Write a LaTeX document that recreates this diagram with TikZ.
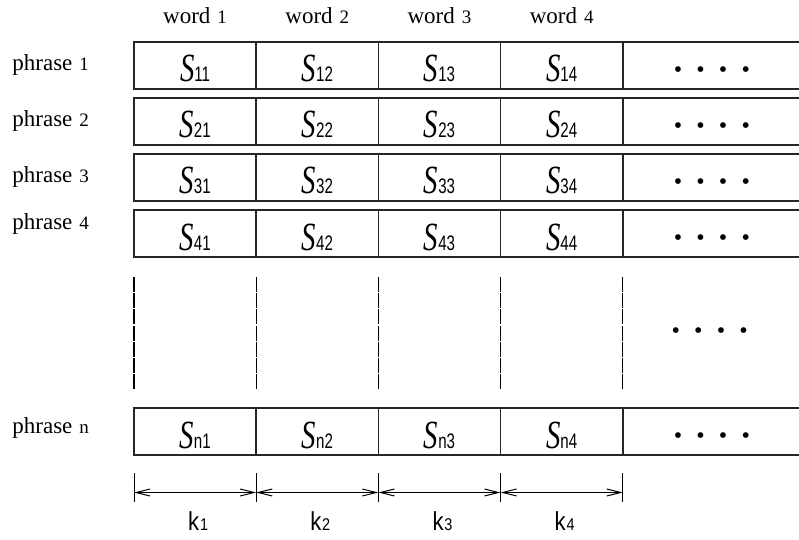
\documentclass[tikz,border=0pt]{standalone}
\usepackage{fontspec}
\setmainfont{Liberation Serif}
\setsansfont{Liberation Sans}
\usepackage{graphicx}
\usetikzlibrary{arrows.meta,positioning}

% cell entry S_ij and width label k_j, both narrowed
\newcommand{\sval}[1]{\scalebox{0.72}[1]{\fontsize{20pt}{20pt}\selectfont\textit{S}\fontsize{10.5pt}{11pt}\selectfont\sffamily#1}}
\newcommand{\kval}[1]{\scalebox{0.85}[1]{\sffamily\fontsize{13pt}{14pt}\selectfont k\hspace{0.5pt}\fontsize{8.5pt}{9pt}\selectfont#1}}
\newcommand{\idx}[1]{\hspace{3.5pt}{\fontsize{9.5pt}{10pt}\selectfont#1}}
\newcommand{\rowdots}{\textbullet\hspace{7.1pt}\textbullet\hspace{7.1pt}\textbullet\hspace{7.1pt}\textbullet}

\begin{document}
\begin{tikzpicture}[x=0.5pt, y=-0.5pt,
    cell/.style={draw=black!85, line width=0.8pt, minimum width=61.1pt, minimum height=23.5pt, inner sep=0pt, outer sep=0pt, text height=16.5pt, text depth=0pt},
    wide/.style={cell, minimum width=89.1pt, text height=12.5pt, font=\fontsize{12pt}{14pt}\selectfont},
    lbl/.style={font=\fontsize{11.5pt}{13pt}\selectfont, inner sep=0pt},
    gapline/.style={line width=0.6pt, dash pattern=on 7.5pt off 0.6pt},
    tickline/.style={line width=0.5pt},
    dimarrow/.style={{Straight Barb[length=7pt,width=3.5pt]}-{Straight Barb[length=7pt,width=3.5pt]}, line width=0.5pt}
  ]
    \useasboundingbox (0,0) rectangle (799,540);

    % column heads
    \foreach \c in {1,...,4}
      \node[lbl, anchor=base] (w\c) at ({134+122.2*(\c-0.5)}, 24) {word\idx{\c}};

    % rows: name / centre / label baseline
    \foreach \r/\yc/\yb in {1/65.5/71, 2/121.5/127, 3/177.5/183, 4/233.5/229, n/431.5/433} {
      \node[lbl, anchor=base west] (p\r) at (12, \yb) {phrase\idx{\r}};
      \foreach \c in {1,...,4}
        \node[cell] (r\r c\c) at ({134+122.2*(\c-0.5)}, \yc) {\sval{\r\c}};
      \node[wide] (r\r c5) at (711.9, \yc) {\rowdots};
    }

    % omitted rows
    \foreach \c in {0,...,4} {
      \coordinate (ga\c) at ({134+122.2*\c}, 277);
      \coordinate (gb\c) at ({134+122.2*\c}, 389);
      \draw[gapline] (ga\c) -- (gb\c);
    }
    \node[font=\fontsize{12pt}{14pt}\selectfont, inner sep=0pt, anchor=base] (gdots) at (709.7, 338) {\rowdots};

    % column widths
    \foreach \c in {0,...,4} {
      \coordinate (ta\c) at ({134+122.2*\c}, 473);
      \coordinate (tb\c) at ({134+122.2*\c}, 502);
      \coordinate (m\c) at ({134+122.2*\c}, 492.5);
      \draw[tickline] (ta\c) -- (tb\c);
    }
    \foreach \c [count=\n from 1] in {0,...,3} {
      \draw[dimarrow] (m\c) -- (m\n);
      \node[inner sep=0pt, anchor=base] (k\n) at ({137+122.2*\c+61.1}, 530) {\kval{\n}};
    }
  \end{tikzpicture}
\end{document}
